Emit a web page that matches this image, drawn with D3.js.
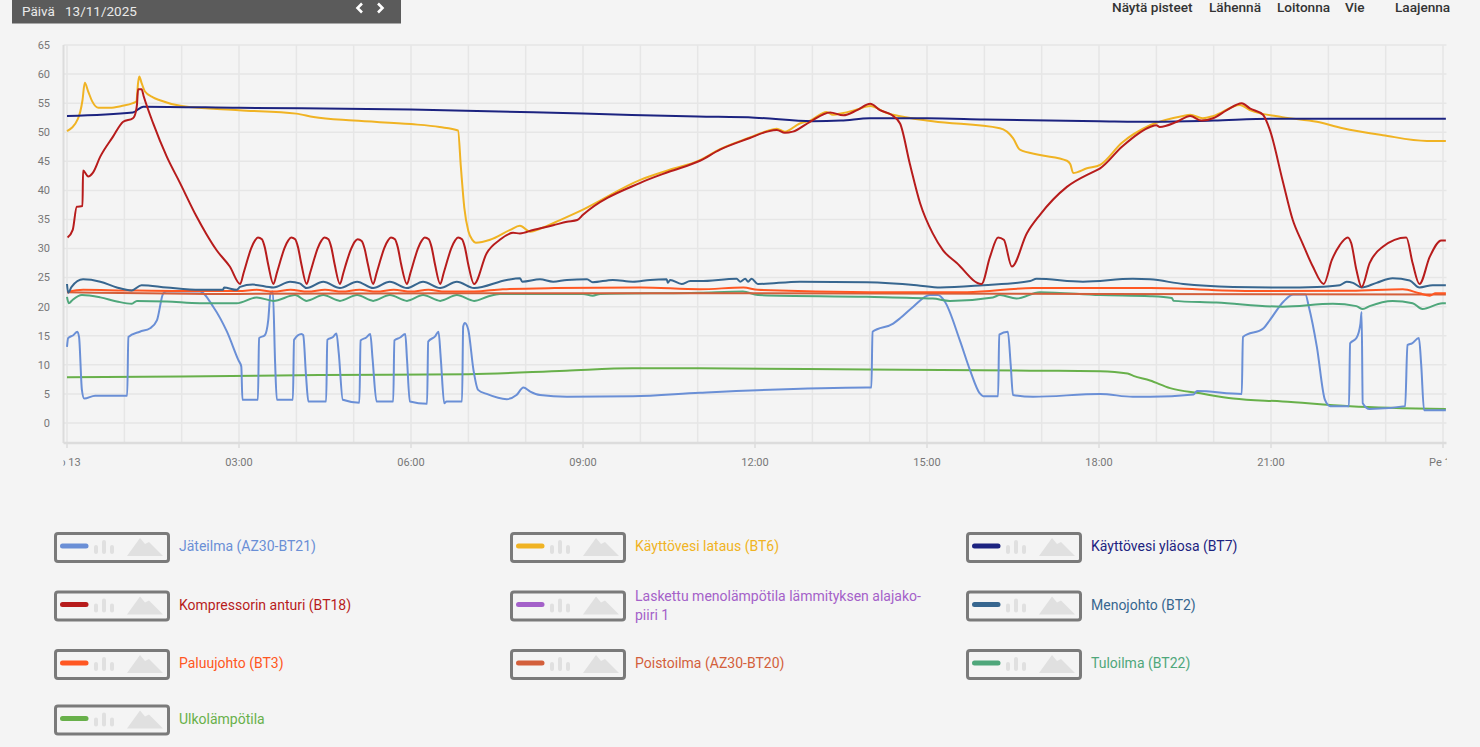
<!DOCTYPE html>
<html><head><meta charset="utf-8">
<script src="https://cdn.jsdelivr.net/npm/d3@7"></script>
<style>
html,body{margin:0;padding:0;background:#f4f4f4;font-family:Roboto,"Open Sans",sans-serif;}
svg{display:block}
</style></head><body>
<svg id="c" width="1480" height="747"></svg>
<script>
// ---------- DATA ----------
const dateLabel = "13/11/2025";
const toolbarItems = ["Näytä pisteet","Lähennä","Loitonna","Vie","Laajenna"];
const toolbarX = [1112,1209,1277,1345,1395];
const yTicks = [0,5,10,15,20,25,30,35,40,45,50,55,60,65];
const hourGrid = d3.range(0,25,1);
const xTickHours = [0,3,6,9,12,15,18,21,24];
const xTickLabels = ["To 13","03:00","06:00","09:00","12:00","15:00","18:00","21:00","Pe 14"];

const seriesNames = ["Jäteilma (AZ30-BT21)","Käyttövesi lataus (BT6)","Käyttövesi yläosa (BT7)",
  "Kompressorin anturi (BT18)","Laskettu menolämpötila lämmityksen alajako\u00ADpiiri 1","Menojohto (BT2)",
  "Paluujohto (BT3)","Poistoilma (AZ30-BT20)","Tuloilma (BT22)","Ulkolämpötila"];
const seriesColors = ["#6a8fd6","#f0b323","#1c2380","#b71c1c","#a461c9","#37668f","#ff5722","#d35f3b","#4fa77b","#68b04a"];

// [hour, °C]
const jateilma = [[0,13.1],[0.02,14.6],[0.11,15.1],[0.18,15.7],[0.21,14.8],[0.26,5.7],[0.3,4.2],[0.49,4.7],[1.05,4.7],[1.07,14.8],[1.27,15.7],[1.45,16.3],[1.57,17.7],[1.68,22.3],[1.74,22.6],[2.32,22.6],[2.55,20.0],[2.79,15.7],[2.99,10.8],[3.04,9.7],[3.06,4.0],[3.33,4.0],[3.35,14.6],[3.45,15.1],[3.51,17.7],[3.55,22.3],[3.59,22.6],[3.63,10.3],[3.66,4.0],[3.94,4.0],[3.96,14.3],[4.09,15.3],[4.12,15.1],[4.17,8.0],[4.21,3.7],[4.52,3.7],[4.54,14.3],[4.64,14.8],[4.7,15.4],[4.74,12.0],[4.81,4.0],[5.1,3.5],[5.12,14.2],[5.22,14.7],[5.29,15.3],[5.33,11.0],[5.4,3.7],[5.69,3.7],[5.71,14.2],[5.81,14.7],[5.9,15.3],[5.93,11.0],[5.98,3.7],[6.28,3.3],[6.3,14.0],[6.42,14.9],[6.48,15.7],[6.52,11.0],[6.58,3.4],[6.62,3.7],[6.89,3.7],[6.91,16.6],[6.94,17.2],[7.0,16.0],[7.09,9.1],[7.17,5.7],[7.32,5.0],[7.67,4.1],[7.84,4.8],[7.96,6.1],[8.08,5.4],[8.25,4.8],[8.72,4.5],[9.87,4.6],[11.04,5.2],[13.95,6.1],[14.03,6.1],[14.05,15.7],[14.41,17.1],[14.53,18.0],[14.76,20.0],[15.05,22.0],[15.19,22.0],[15.31,20.9],[15.57,14.3],[15.75,9.1],[15.92,5.1],[15.98,4.6],[16.24,4.6],[16.26,15.2],[16.41,15.7],[16.46,10.0],[16.5,4.8],[16.85,4.5],[18.02,5.0],[18.59,4.5],[18.89,4.5],[19.65,4.9],[19.71,5.5],[20.49,5.0],[20.51,14.8],[20.87,16.3],[20.98,17.7],[21.22,20.9],[21.39,22.1],[21.6,22.1],[21.66,20.0],[21.8,13.1],[21.94,4.0],[22.03,2.9],[22.36,2.9],[22.38,13.7],[22.49,14.6],[22.56,17.1],[22.58,19.1],[22.6,3.4],[22.72,2.4],[23.34,2.9],[23.38,13.4],[23.46,13.7],[23.58,14.6],[23.62,10.0],[23.67,2.2],[24.05,2.2]];

const bt6 = [[0,50.2],[0.19,52.3],[0.27,55.5],[0.31,58.5],[0.37,57.0],[0.44,55.3],[0.55,54.2],[0.75,54.2],[0.95,54.5],[1.15,55.0],[1.21,55.3],[1.24,58.5],[1.26,59.6],[1.3,58.5],[1.36,57.0],[1.5,56.0],[1.62,55.5],[2.0,54.5],[3.0,53.8],[4.0,53.2],[4.3,52.6],[5.0,52.0],[6.0,51.4],[6.5,50.9],[6.82,50.3],[6.87,44.0],[6.93,37.0],[7.0,33.0],[7.07,31.5],[7.13,31.0],[7.38,31.5],[7.73,33.2],[7.9,33.9],[8.08,32.9],[8.25,33.4],[8.6,34.9],[9.0,36.7],[10.0,41.8],[10.5,43.5],[11.04,45.2],[11.39,47.1],[11.91,49.1],[12.21,50.2],[12.38,50.6],[12.52,50.1],[12.78,51.5],[12.96,52.0],[13.25,53.5],[13.36,53.0],[13.54,53.3],[13.78,53.9],[14.01,54.5],[14.3,53.3],[14.41,53.0],[15.1,51.9],[16.27,50.7],[16.5,49.0],[16.62,47.0],[16.97,46.1],[17.44,45.1],[17.5,44.5],[17.55,43.0],[17.79,43.8],[18.02,44.4],[18.4,48.2],[18.89,51.2],[19.47,52.8],[19.59,53.0],[19.81,52.4],[20.0,52.8],[20.46,54.7],[20.63,53.8],[21.2,52.6],[21.8,51.8],[22.25,50.7],[22.95,49.5],[23.72,48.5],[24.05,48.5]];

const bt7 = [[0,52.8],[1.15,53.4],[1.33,54.4],[3.0,54.2],[6.0,53.9],[9.0,53.2],[11.0,52.7],[12.0,52.5],[13.0,51.9],[13.5,52.0],[14.0,52.4],[15.0,52.4],[16.0,52.2],[18.0,51.9],[19.0,51.8],[20.0,52.0],[21.0,52.3],[24.05,52.3]];

const bt18 = [[0.01,31.9],[0.1,33.2],[0.17,37.2],[0.27,37.3],[0.28,43.4],[0.37,42.4],[0.45,43.0],[0.58,45.8],[0.8,49.2],[0.98,51.8],[1.15,52.4],[1.2,53.5],[1.22,54.7],[1.24,57.4],[1.3,57.4],[1.34,56.1],[1.5,51.6],[1.74,45.8],[1.97,41.3],[2.26,35.5],[2.43,32.5],[2.61,29.7],[2.84,26.9],[3.02,23.9],
 [3.08,25.8],[3.14,27.8],[3.21,30.0],[3.28,31.4],[3.33,31.9],[3.4,31.6],[3.45,30.2],[3.51,27.2],[3.6,23.9],
 [3.66,25.8],[3.72,27.8],[3.79,30.0],[3.86,31.4],[3.91,31.9],[3.98,31.6],[4.03,30.2],[4.09,27.2],[4.18,23.9],
 [4.24,25.8],[4.3,27.8],[4.37,30.0],[4.44,31.4],[4.49,31.9],[4.56,31.6],[4.61,30.2],[4.67,27.2],[4.76,23.9],
 [4.82,25.8],[4.88,27.8],[4.95,29.8],[5.02,31.2],[5.07,31.6],[5.14,31.3],[5.19,30.0],[5.25,27.2],[5.34,23.9],
 [5.4,25.8],[5.46,27.8],[5.53,30.0],[5.6,31.4],[5.65,31.9],[5.72,31.6],[5.77,30.2],[5.83,27.2],[5.93,23.9],
 [5.99,25.8],[6.05,27.8],[6.12,30.0],[6.19,31.4],[6.24,31.9],[6.31,31.6],[6.36,30.2],[6.42,27.2],[6.51,23.9],
 [6.57,25.8],[6.63,27.8],[6.7,30.0],[6.77,31.4],[6.82,31.9],[6.89,31.6],[6.94,30.2],[7.0,27.2],[7.1,23.9],
 [7.32,29.2],[7.55,31.5],[7.78,32.7],[7.9,32.6],[8.13,33.2],[8.48,34.0],[8.72,34.6],[8.9,34.9],[9.0,35.8],[10.0,41.3],[10.5,43.2],[11.04,45.1],[11.39,47.0],[11.91,49.0],[12.21,50.1],[12.38,50.4],[12.52,49.9],[12.66,50.1],[12.96,51.8],[13.31,53.4],[13.54,52.9],[13.78,53.8],[14.01,54.9],[14.18,53.8],[14.38,53.0],[14.53,51.5],[14.7,44.6],[14.88,37.8],[15.1,32.6],[15.28,29.7],[15.52,27.5],[15.95,23.9],[16.1,28.6],[16.24,31.9],[16.34,31.5],[16.48,26.9],[16.74,32.6],[16.97,35.8],[17.44,40.6],[17.9,43.2],[18.02,43.8],[18.4,47.5],[18.89,50.9],[19.0,51.2],[19.06,50.9],[19.36,51.8],[19.59,52.8],[19.79,52.0],[19.99,52.4],[20.23,53.8],[20.49,55.0],[20.63,54.1],[20.86,53.0],[20.98,50.4],[21.2,41.8],[21.38,34.9],[21.55,30.9],[21.73,26.9],[21.92,23.9],[22.06,28.0],[22.2,30.6],[22.34,31.9],[22.4,30.9],[22.49,26.3],[22.58,23.4],[22.72,27.5],[22.95,30.3],[23.36,31.9],[23.47,27.5],[23.59,23.9],[23.77,28.6],[23.97,31.4],[24.05,31.4]];

const laskettu = [];

const bt2 = [[0,23.9],[0.02,22.4],[0.08,23.4],[0.28,24.7],[0.58,24.3],[0.87,23.3],[1.13,22.8],[1.3,23.7],[1.74,23.3],[2.32,22.9],[2.72,22.9],[2.74,23.3],[2.96,22.9],[3.02,23.4],[3.24,23.8],[3.6,23.3],[3.89,24.3],[4.06,24.0],[4.18,23.2],[4.47,24.3],[4.76,23.2],[5.06,24.3],[5.34,23.2],[5.63,24.3],[5.93,23.2],[6.21,24.3],[6.51,23.2],[6.8,24.3],[7.1,23.2],[7.67,24.6],[7.9,24.9],[7.94,24.3],[8.25,24.7],[8.48,24.3],[8.72,24.6],[9.07,24.7],[9.17,24.2],[9.52,24.6],[9.87,24.3],[10.17,24.6],[10.46,24.7],[10.48,24.1],[10.52,24.6],[10.72,23.9],[10.87,24.4],[11.04,24.4],[11.68,24.8],[11.74,24.3],[11.83,24.8],[11.88,24.3],[11.94,24.8],[12.05,23.9],[12.78,24.3],[13.95,24.2],[14.82,23.7],[15.23,23.3],[15.98,23.7],[16.8,24.4],[16.91,24.8],[17.72,24.3],[18.59,24.8],[18.89,24.7],[19.47,23.9],[20.34,23.4],[21.2,23.3],[21.8,23.4],[22.2,23.7],[22.32,24.3],[22.43,24.1],[22.58,23.3],[22.84,24.1],[23.12,24.9],[23.42,24.5],[23.59,23.3],[23.82,23.7],[24.05,23.7]];

const bt3 = [[0,22.5],[0.28,22.9],[1.0,22.8],[2.0,22.7],[3.0,22.7],[3.3,22.9],[3.6,22.6],[3.9,22.9],[4.2,22.6],[4.5,22.9],[4.8,22.6],[5.1,22.9],[5.4,22.6],[5.7,22.9],[6.0,22.6],[6.3,22.9],[6.6,22.6],[7.1,22.6],[7.6,23.0],[8.5,23.2],[10.0,23.3],[11.04,23.0],[11.8,23.3],[12.05,22.9],[14.0,22.5],[15.7,22.5],[16.85,23.2],[18.02,23.2],[18.9,23.2],[20.63,22.7],[22.4,22.75],[23.3,23.0],[23.59,22.3],[23.77,21.9],[23.87,22.3],[24.05,22.3]];

const bt20 = [[0,22.5],[3.0,22.2],[7.0,22.3],[12.0,22.3],[18.0,22.2],[24.05,22.1]];

const bt22 = [[0,21.7],[0.03,20.6],[0.1,21.2],[0.26,22.0],[0.58,21.6],[0.87,20.9],[1.13,20.5],[1.22,21.0],[1.74,20.9],[2.32,20.6],[2.96,20.6],[3.31,21.6],[3.6,21.0],[3.98,22.0],[4.18,21.0],[4.47,22.0],[4.76,21.0],[5.06,22.0],[5.34,21.0],[5.63,22.0],[5.93,21.0],[6.21,22.0],[6.51,21.0],[6.8,22.0],[7.1,21.0],[7.33,21.7],[7.55,22.2],[9.0,22.2],[9.17,21.9],[9.3,22.2],[11.04,22.4],[11.79,22.6],[12.05,22.0],[13.95,21.7],[15.1,21.4],[15.4,21.0],[16.15,21.6],[16.27,22.0],[16.56,21.4],[16.97,22.5],[18.02,22.0],[18.89,21.8],[19.27,21.5],[19.3,21.0],[20.05,20.7],[21.2,20.0],[22.08,20.5],[22.49,20.1],[22.6,19.6],[22.72,20.1],[23.12,21.0],[23.47,20.6],[23.64,19.6],[23.99,20.6],[24.05,20.6]];

const ulko = [[0,7.85],[2.0,8.0],[4.4,8.25],[7.0,8.4],[8.7,9.0],[9.87,9.4],[11.04,9.4],[13.95,9.2],[16.8,9.0],[18.02,8.9],[18.5,8.5],[18.6,8.1],[18.89,7.3],[19.24,6.0],[19.77,5.1],[20.34,4.2],[21.2,3.7],[22.38,2.9],[24.05,2.4]];

const seriesData = [jateilma,bt6,bt7,bt18,laskettu,bt2,bt3,bt20,bt22,ulko];

// ---------- LAYOUT ----------
const svg = d3.select("#c");
const x = d3.scaleLinear().domain([0,24]).range([67,1443]);
const y = d3.scaleLinear().domain([0,65]).range([423,45]);
const plotLeft = 63.5, plotRight = 1446.5, plotTop = 45, plotBottom = 443;

// toolbar
svg.append("rect").attr("x",12).attr("y",0).attr("width",389).attr("height",23.5).attr("fill","#5b5b5b");
svg.append("text").attr("x",22).attr("y",12.5).attr("fill","#eaeaea").attr("font-size",13.5).attr("dominant-baseline","middle").text("Päivä");
svg.append("text").attr("x",65).attr("y",12.5).attr("fill","#eaeaea").attr("font-size",13.5).attr("dominant-baseline","middle").text(dateLabel);
svg.append("path").attr("d","M362,3.5 L357.5,8 L362,12.5").attr("fill","none").attr("stroke","#fff").attr("stroke-width",2.6);
svg.append("path").attr("d","M378,3.5 L382.5,8 L378,12.5").attr("fill","none").attr("stroke","#fff").attr("stroke-width",2.6);
svg.selectAll("text.tb").data(toolbarItems).join("text").attr("class","tb")
  .attr("x",(d,i)=>toolbarX[i]).attr("y",11.5).attr("font-size",13.6).attr("font-weight",500).attr("fill","#333").text(d=>d);

// grid
const g = svg.append("g");
g.selectAll("line.hg").data(yTicks).join("line").attr("class","hg")
  .attr("x1",plotLeft).attr("x2",plotRight).attr("y1",d=>y(d)).attr("y2",d=>y(d))
  .attr("stroke","#e6e6e6").attr("stroke-width",1.5);
g.selectAll("line.vg").data(hourGrid).join("line").attr("class","vg")
  .attr("x1",d=>x(d)).attr("x2",d=>x(d)).attr("y1",plotTop).attr("y2",plotBottom)
  .attr("stroke","#e6e6e6").attr("stroke-width",1.5);
// axis lines
g.append("line").attr("x1",plotLeft).attr("x2",plotLeft).attr("y1",plotTop).attr("y2",plotBottom).attr("stroke","#dcdcdc").attr("stroke-width",2);
g.append("line").attr("x1",plotLeft).attr("x2",plotRight).attr("y1",plotBottom).attr("y2",plotBottom).attr("stroke","#dcdcdc").attr("stroke-width",2.5);
g.selectAll("line.xt").data(xTickHours).join("line").attr("class","xt")
  .attr("x1",d=>x(d)).attr("x2",d=>x(d)).attr("y1",plotBottom).attr("y2",plotBottom+5)
  .attr("stroke","#dcdcdc").attr("stroke-width",1.5);

// y labels
g.selectAll("text.yl").data(yTicks).join("text").attr("class","yl")
  .attr("x",50).attr("y",d=>y(d)).attr("dy","0.35em").attr("text-anchor","end")
  .attr("font-size",11).attr("fill","#777").text(d=>d);

// x labels (clipped at plot edges)
svg.append("clipPath").attr("id","xlclip").append("rect").attr("x",plotLeft).attr("y",440).attr("width",plotRight-plotLeft+0.5).attr("height",40);
g.append("g").attr("clip-path","url(#xlclip)").selectAll("text").data(xTickHours).join("text")
  .attr("x",d=>x(d)).attr("y",462).attr("dy","0.35em").attr("text-anchor","middle")
  .attr("font-size",11).attr("fill","#777").text((d,i)=>xTickLabels[i]);

// lines
svg.append("clipPath").attr("id","pclip").append("rect").attr("x",plotLeft+1).attr("y",30).attr("width",plotRight-plotLeft-0.5).attr("height",plotBottom-30);
const line = d3.line().x(d=>x(d[0])).y(d=>y(d[1])).curve(d3.curveMonotoneX);
const lg = svg.append("g").attr("clip-path","url(#pclip)");
const drawOrder = [9,0,8,7,6,5,4,1,2,3];
drawOrder.forEach(i=>{
  if(!seriesData[i].length) return;
  lg.append("path").attr("d",line(seriesData[i])).attr("fill","none")
    .attr("stroke",seriesColors[i]).attr("stroke-width",2).attr("stroke-linejoin","round");
});

// legend
const colX = [54,510,966];
const rowCY = [547,605.5,664,719.5];
seriesNames.forEach((name,i)=>{
  const c = i%3, r = Math.floor(i/3);
  const L = colX[c], cy = rowCY[r], T = cy-15;
  const lgI = svg.append("g");
  lgI.append("rect").attr("x",L+1.5).attr("y",T+1.5).attr("width",113).attr("height",28).attr("rx",2.5)
    .attr("fill","none").attr("stroke","#7a7a7a").attr("stroke-width",3);
  lgI.append("line").attr("x1",L+8.5).attr("x2",L+32).attr("y1",T+14).attr("y2",T+14)
    .attr("stroke",seriesColors[i]).attr("stroke-width",5).attr("stroke-linecap","round");
  [[40,9],[48,14],[56,9]].forEach(([bx,bh])=>{
    lgI.append("rect").attr("x",L+bx).attr("y",T+22-bh).attr("width",4).attr("height",bh).attr("rx",2).attr("fill","#e0e0e0");
  });
  lgI.append("path").attr("d",`M${L+73},${T+24} L${L+86},${T+6} L${L+91},${T+12} L${L+95},${T+10} L${L+109},${T+24} Z`).attr("fill","#e0e0e0");
  const parts = name.split("\u00AD");
  const fs = 14;
  if(parts.length>1){
    lgI.append("text").attr("x",L+125).attr("y",cy-9.5).attr("dy","0.35em").attr("font-size",fs).attr("fill",seriesColors[i]).text(parts[0]+"-");
    lgI.append("text").attr("x",L+125).attr("y",cy+10).attr("dy","0.35em").attr("font-size",fs).attr("fill",seriesColors[i]).text(parts[1]);
  } else {
    lgI.append("text").attr("x",L+125).attr("y",cy-0.5).attr("dy","0.35em").attr("font-size",fs).attr("fill",seriesColors[i]).text(name);
  }
});
</script>
</body></html>
